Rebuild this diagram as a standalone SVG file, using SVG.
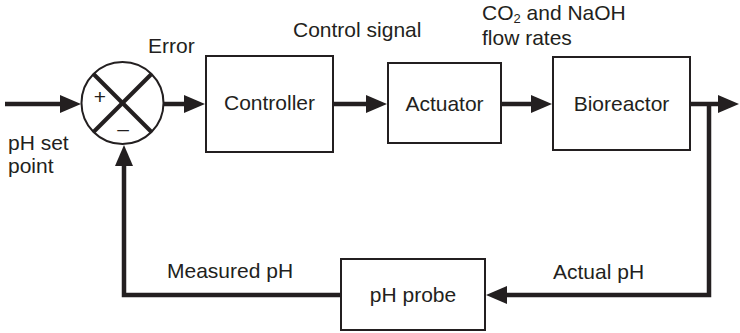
<svg xmlns="http://www.w3.org/2000/svg" width="740" height="333" viewBox="0 0 740 333">
<style>
text{font-family:"Liberation Sans",Arial,sans-serif;font-size:21px;fill:#231f20}
.box{fill:#fff;stroke:#231f20;stroke-width:2}
.ln{fill:none;stroke:#231f20;stroke-width:4.5;stroke-linejoin:miter}
.thin{fill:none;stroke:#231f20;stroke-width:4}
</style>
<defs>
<marker id="ah" viewBox="0 0 21 18" refX="11" refY="9" markerWidth="21" markerHeight="18" markerUnits="userSpaceOnUse" orient="auto">
<path d="M0,0 L21,9 L0,18 Z" fill="#231f20"/>
</marker>
</defs>
<g id="connectors">
<line class="ln" x1="5" y1="104" x2="71" y2="104" marker-end="url(#ah)"/>
<line class="ln" x1="163" y1="104" x2="195" y2="104" marker-end="url(#ah)"/>
<line class="ln" x1="334" y1="104" x2="377" y2="104" marker-end="url(#ah)"/>
<line class="ln" x1="501" y1="104" x2="542" y2="104" marker-end="url(#ah)"/>
<line class="ln" x1="690" y1="104" x2="729" y2="104" marker-end="url(#ah)"/>
<polyline class="ln" points="709,104 709,295 496,295" marker-end="url(#ah)"/>
<polyline class="ln" points="341,295 124,295 124,155" marker-end="url(#ah)"/>
</g>
<g id="summing">
<circle cx="122.5" cy="103" r="41" fill="#fff" stroke="#231f20" stroke-width="2"/>
<line class="thin" x1="93.5" y1="74" x2="151.5" y2="132"/>
<line class="thin" x1="151.5" y1="74" x2="93.5" y2="132"/>
<text x="100" y="104" font-size="16" text-anchor="middle">+</text>
<text x="123" y="136" font-size="16" text-anchor="middle">–</text>
</g>
<g id="controller">
<rect class="box" x="206" y="56" width="127" height="96"/>
<text x="269.5" y="110" text-anchor="middle">Controller</text>
</g>
<g id="actuator">
<rect class="box" x="388" y="63" width="113" height="80"/>
<text x="444.5" y="111" text-anchor="middle">Actuator</text>
</g>
<g id="bioreactor">
<rect class="box" x="553" y="57" width="137" height="93"/>
<text x="621.5" y="111" text-anchor="middle">Bioreactor</text>
</g>
<g id="probe">
<rect class="box" x="341" y="259" width="144" height="71"/>
<text x="413" y="302" text-anchor="middle">pH probe</text>
</g>
<g id="labels">
<text x="8" y="150">pH set</text>
<text x="8" y="173">point</text>
<text x="148" y="53">Error</text>
<text x="293" y="37">Control signal</text>
<text x="482" y="20">CO<tspan font-size="13" dy="3">2</tspan><tspan dy="-3"> and NaOH</tspan></text>
<text x="482" y="45">flow rates</text>
<text x="167" y="278">Measured pH</text>
<text x="553" y="279">Actual pH</text>
</g>
</svg>
